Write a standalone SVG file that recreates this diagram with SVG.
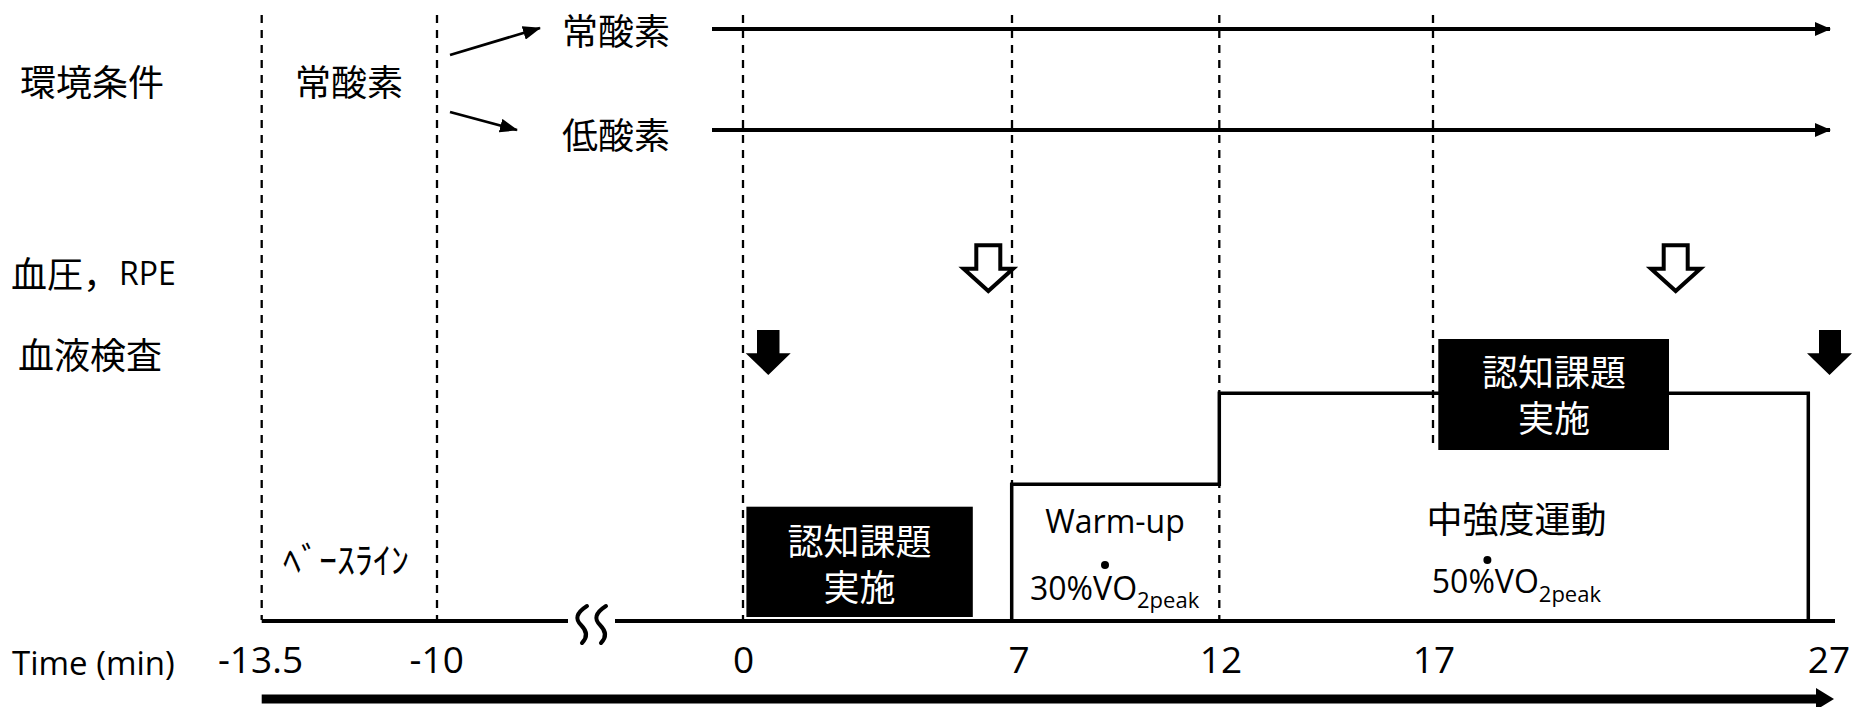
<svg xmlns="http://www.w3.org/2000/svg" width="1855" height="707" viewBox="0 0 1855 707">
<style>
.cjk{font-family:"Noto Sans CJK JP","Noto Sans",sans-serif;font-size:36px;fill:#000}
.lat{font-family:"Open Sans","Noto Sans",sans-serif;fill:#000}
.num{font-family:"Open Sans","Noto Sans",sans-serif;font-size:37px;fill:#000;text-anchor:middle}
.wt{fill:#fff;text-anchor:middle}
.dash{stroke:#000;stroke-width:2.3;stroke-dasharray:8 7;fill:none}
.solid{stroke:#000;fill:none}
</style>
<defs>
<marker id="ah" markerUnits="userSpaceOnUse" markerWidth="18" markerHeight="14" refX="17" refY="7" orient="auto">
<path d="M0,0 L18,7 L0,14 Z" fill="#000"/>
</marker>
<marker id="ah2" markerUnits="userSpaceOnUse" markerWidth="16" markerHeight="14" refX="15" refY="7" orient="auto">
<path d="M0,0 L16,7 L0,14 Z" fill="#000"/>
</marker>
</defs>
<rect width="1855" height="707" fill="#fff"/>

<g id="gridlines">
<line class="dash" x1="261.7" y1="15" x2="261.7" y2="620"/>
<line class="dash" x1="437" y1="15" x2="437" y2="620"/>
<line class="dash" x1="743" y1="15" x2="743" y2="620"/>
<line class="dash" x1="1012" y1="15" x2="1012" y2="484"/>
<line class="dash" x1="1219.3" y1="15" x2="1219.3" y2="620"/>
<line class="dash" x1="1433" y1="15" x2="1433" y2="446"/>
</g>

<g id="labels">
<text class="cjk" x="20" y="80" dominant-baseline="central">環境条件</text>
<text class="cjk" x="11" y="272" dominant-baseline="central">血圧，<tspan class="lat" font-size="32">RPE</tspan></text>
<text class="cjk" x="18" y="352.5" dominant-baseline="central">血液検査</text>
<text class="lat" x="12" y="675" font-size="33">Time (min)</text>
</g>

<g id="node-normoxia-base">
<text class="cjk" x="295" y="80" dominant-baseline="central">常酸素</text>
</g>
<g id="node-normoxia">
<text class="cjk" x="562" y="29" dominant-baseline="central">常酸素</text>
</g>
<g id="node-hypoxia">
<text class="cjk" x="562" y="133" dominant-baseline="central">低酸素</text>
</g>
<g id="node-baseline">
<text class="cjk" x="283" y="558" dominant-baseline="central">ﾍﾞｰｽﾗｲﾝ</text>
</g>

<g id="node-task1">
<rect x="746.4" y="506.7" width="226.4" height="110.3" fill="#000"/>
<text class="cjk wt" x="859.6" y="539" dominant-baseline="central">認知課題</text>
<text class="cjk wt" x="859.6" y="585" dominant-baseline="central">実施</text>
</g>

<g id="node-exercise">
<path class="solid" stroke-width="3.5" d="M1011.7,621 V484.3 H1219.3 V393.3 H1808.3 V621"/>
<text class="lat" x="1115" y="533" font-size="32" text-anchor="middle">Warm-up</text>
<text class="lat" x="1030" y="600" font-size="32">30%VO<tspan font-size="22" dy="8">2peak</tspan></text>
<circle cx="1105" cy="565" r="4" fill="#000"/>
<text class="cjk" x="1516.5" y="516.5" text-anchor="middle" dominant-baseline="central">中強度運動</text>
<text class="lat" x="1431.8" y="593" font-size="32">50%VO<tspan font-size="22" dy="8.7">2peak</tspan></text>
<circle cx="1487.4" cy="560" r="4" fill="#000"/>
</g>

<g id="node-task2">
<rect x="1438.3" y="339" width="230.7" height="111" fill="#000"/>
<text class="cjk wt" x="1554" y="370" dominant-baseline="central">認知課題</text>
<text class="cjk wt" x="1554" y="416" dominant-baseline="central">実施</text>
</g>

<g id="markers">
<polygon fill="#000" points="757,330 779.5,330 779.5,353.3 790.7,353.3 768.3,375 745.7,353.3 757,353.3"/>
<polygon fill="#000" points="1819,330 1841,330 1841,353.3 1852,353.3 1829.5,375 1807,353.3 1819,353.3"/>
<path fill="#fff" stroke="#000" stroke-width="4" stroke-miterlimit="10" d="M976.3,245.3 H1000.3 V268.7 H1013 L988.3,291 L963.6,268.7 H976.3 Z"/>
<path fill="#fff" stroke="#000" stroke-width="4" stroke-miterlimit="10" d="M1663.7,245.3 H1687.7 V268.7 H1700.4 L1675.7,291 L1651,268.7 H1663.7 Z"/>
</g>

<g id="connectors">
<line class="solid" stroke-width="2.8" x1="450" y1="55" x2="540" y2="28" marker-end="url(#ah)"/>
<line class="solid" stroke-width="2.8" x1="450" y1="112" x2="517" y2="130" marker-end="url(#ah)"/>
<line class="solid" stroke-width="4" x1="712" y1="29" x2="1830" y2="29" marker-end="url(#ah2)"/>
<line class="solid" stroke-width="4" x1="712" y1="130" x2="1830" y2="130" marker-end="url(#ah2)"/>
<path class="solid" stroke-width="4" d="M261.7,621 H568 M615,621 H1835"/>
<path class="solid" stroke-width="4" stroke-linecap="round" d="M587,606 C576,613 575,619 581,625 C587,631 588,637 582,643"/>
<path class="solid" stroke-width="4" stroke-linecap="round" d="M606,606 C595,613 594,619 600,625 C606,631 607,637 601,643"/>
<line class="solid" stroke-width="9" x1="261.7" y1="699" x2="1818" y2="699"/>
<polygon fill="#000" points="1816,688 1834,699 1816,710"/>
</g>

<g id="axis-labels">
<text class="num" x="260.5" y="673">-13.5</text>
<text class="num" x="436.7" y="673">-10</text>
<text class="num" x="743.6" y="673">0</text>
<text class="num" x="1019" y="673">7</text>
<text class="num" x="1221" y="673">12</text>
<text class="num" x="1434" y="673">17</text>
<text class="num" x="1829" y="673">27</text>
</g>
</svg>
